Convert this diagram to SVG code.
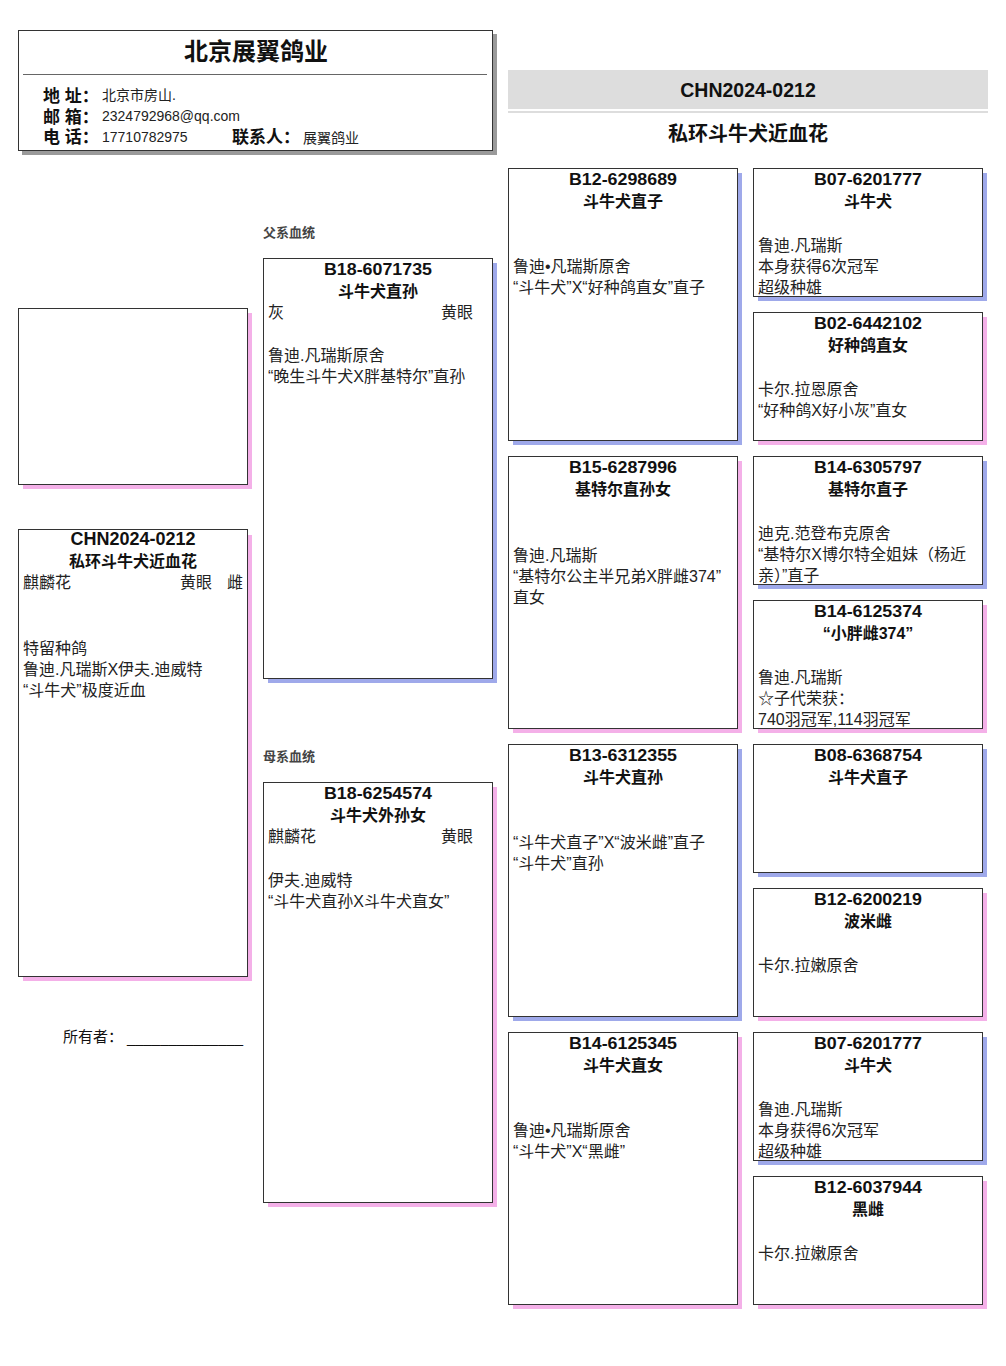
<svg xmlns="http://www.w3.org/2000/svg" width="1006" height="1366" viewBox="0 0 1006 1366">
<style>
.bg{fill:#ffffff}
.box{fill:#ffffff;stroke:#333333;stroke-width:1}
.sm{fill:#9fa9ea}
.sf{fill:#f4b0e8}
.sg{fill:#9a9a9a}
text{font-family:"Liberation Sans","Noto Sans CJK SC",sans-serif;fill:#111111}
.id{font-size:17px;font-weight:bold;text-anchor:middle}
.nm{font-size:16px;font-weight:bold;text-anchor:middle}
.bd{font-size:16px;fill:#222222}
.lbl{font-size:13px;font-weight:bold;fill:#444444}
.hk{font-size:17px;font-weight:bold}
.hv{font-size:14px;fill:#222222}
</style>
<rect class="bg" x="0" y="0" width="1006" height="1366"/>

<g id="header">
<rect class="sg" x="22" y="34" width="475" height="121"/>
<rect class="box" x="18.5" y="30.5" width="474" height="120"/>
<text x="256" y="60" text-anchor="middle" font-size="24" font-weight="bold">北京展翼鸽业</text>
<line x1="23" y1="74.5" x2="487" y2="74.5" stroke="#666666" stroke-width="1"/>
<text class="hk" x="43" y="102">地 址：</text>
<text class="hv" x="102" y="100">北京市房山.</text>
<text class="hk" x="43" y="123">邮 箱：</text>
<text class="hv" x="102" y="121">2324792968@qq.com</text>
<text class="hk" x="43" y="143">电 话：</text>
<text class="hv" x="102" y="142">17710782975</text>
<text class="hk" x="232" y="143">联系人：</text>
<text class="hv" x="303" y="143">展翼鸽业</text>
</g>

<g id="title">
<rect x="508" y="70" width="480" height="39" fill="#dddddd"/>
<rect x="508" y="111" width="480" height="2" fill="#dddddd"/>
<text x="748" y="97" text-anchor="middle" font-size="19.5" font-weight="bold">CHN2024-0212</text>
<text x="748" y="141" text-anchor="middle" font-size="20" font-weight="bold">私环斗牛犬近血花</text>
</g>

<g id="photo">
<rect class="sf" x="23" y="313" width="229" height="176"/>
<rect class="box" x="18.5" y="308.5" width="229" height="176"/>
</g>

<g id="subject">
<rect class="sf" x="23" y="535" width="229" height="446"/>
<rect class="box" x="18.5" y="529.5" width="229" height="447"/>
<text x="133" y="545" text-anchor="middle" font-size="18" font-weight="bold">CHN2024-0212</text>
<text class="nm" x="133" y="567">私环斗牛犬近血花</text>
<text class="bd" x="23" y="588">麒麟花</text>
<text class="bd" x="180" y="588">黄眼</text>
<text class="bd" x="227" y="588">雌</text>
<text class="bd" x="23" y="654">特留种鸽</text>
<text class="bd" x="23" y="675">鲁迪.凡瑞斯X伊夫.迪威特</text>
<text class="bd" x="23" y="696">“斗牛犬”极度近血</text>
</g>

<g id="owner">
<text x="63" y="1042" font-size="15" fill="#222222">所有者：</text>
<text x="127" y="1043" font-size="15" fill="#222222" textLength="116" lengthAdjust="spacingAndGlyphs">______________</text>
</g>

<text class="lbl" x="263" y="237">父系血统</text>
<text class="lbl" x="263" y="761">母系血统</text>

<g id="sire">
<rect class="sm" x="268" y="263" width="229" height="420"/>
<rect class="box" x="263.5" y="258.5" width="229" height="420"/>
<text class="id" x="378" y="275" textLength="108" lengthAdjust="spacingAndGlyphs">B18-6071735</text>
<text class="nm" x="378" y="297">斗牛犬直孙</text>
<text class="bd" x="268" y="318">灰</text>
<text class="bd" x="441" y="318">黄眼</text>
<text class="bd" x="268" y="361">鲁迪.凡瑞斯原舍</text>
<text class="bd" x="268" y="382">“晚生斗牛犬X胖基特尔”直孙</text>
</g>

<g id="dam">
<rect class="sf" x="268" y="787" width="229" height="420"/>
<rect class="box" x="263.5" y="782.5" width="229" height="420"/>
<text class="id" x="378" y="799" textLength="108" lengthAdjust="spacingAndGlyphs">B18-6254574</text>
<text class="nm" x="378" y="821">斗牛犬外孙女</text>
<text class="bd" x="268" y="842">麒麟花</text>
<text class="bd" x="441" y="842">黄眼</text>
<text class="bd" x="268" y="886">伊夫.迪威特</text>
<text class="bd" x="268" y="907">“斗牛犬直孙X斗牛犬直女”</text>
</g>

<g id="ss">
<rect class="sm" x="513" y="173" width="229" height="272"/>
<rect class="box" x="508.5" y="168.5" width="229" height="272"/>
<text class="id" x="623" y="185" textLength="108" lengthAdjust="spacingAndGlyphs">B12-6298689</text>
<text class="nm" x="623" y="207">斗牛犬直子</text>
<text class="bd" x="513" y="272">鲁迪•凡瑞斯原舍</text>
<text class="bd" x="513" y="293">“斗牛犬”X“好种鸽直女”直子</text>
</g>

<g id="sd">
<rect class="sf" x="513" y="461" width="229" height="272"/>
<rect class="box" x="508.5" y="456.5" width="229" height="272"/>
<text class="id" x="623" y="473" textLength="108" lengthAdjust="spacingAndGlyphs">B15-6287996</text>
<text class="nm" x="623" y="495">基特尔直孙女</text>
<text class="bd" x="513" y="561">鲁迪.凡瑞斯</text>
<text class="bd" x="513" y="582">“基特尔公主半兄弟X胖雌374”</text>
<text class="bd" x="513" y="603">直女</text>
</g>

<g id="ds">
<rect class="sm" x="513" y="749" width="229" height="272"/>
<rect class="box" x="508.5" y="744.5" width="229" height="272"/>
<text class="id" x="623" y="761" textLength="108" lengthAdjust="spacingAndGlyphs">B13-6312355</text>
<text class="nm" x="623" y="783">斗牛犬直孙</text>
<text class="bd" x="513" y="848">“斗牛犬直子”X“波米雌”直子</text>
<text class="bd" x="513" y="869">“斗牛犬”直孙</text>
</g>

<g id="dd">
<rect class="sf" x="513" y="1037" width="229" height="272"/>
<rect class="box" x="508.5" y="1032.5" width="229" height="272"/>
<text class="id" x="623" y="1049" textLength="108" lengthAdjust="spacingAndGlyphs">B14-6125345</text>
<text class="nm" x="623" y="1071">斗牛犬直女</text>
<text class="bd" x="513" y="1136">鲁迪•凡瑞斯原舍</text>
<text class="bd" x="513" y="1157">“斗牛犬”X“黑雌”</text>
</g>

<g id="sss">
<rect class="sm" x="758" y="173" width="229" height="128"/>
<rect class="box" x="753.5" y="168.5" width="229" height="128"/>
<text class="id" x="868" y="185" textLength="108" lengthAdjust="spacingAndGlyphs">B07-6201777</text>
<text class="nm" x="868" y="207">斗牛犬</text>
<text class="bd" x="758" y="251">鲁迪.凡瑞斯</text>
<text class="bd" x="758" y="272">本身获得6次冠军</text>
<text class="bd" x="758" y="293">超级种雄</text>
</g>

<g id="ssd">
<rect class="sf" x="758" y="317" width="229" height="128"/>
<rect class="box" x="753.5" y="312.5" width="229" height="128"/>
<text class="id" x="868" y="329" textLength="108" lengthAdjust="spacingAndGlyphs">B02-6442102</text>
<text class="nm" x="868" y="351">好种鸽直女</text>
<text class="bd" x="758" y="395">卡尔.拉恩原舍</text>
<text class="bd" x="758" y="416">“好种鸽X好小灰”直女</text>
</g>

<g id="sds">
<rect class="sm" x="758" y="461" width="229" height="128"/>
<rect class="box" x="753.5" y="456.5" width="229" height="128"/>
<text class="id" x="868" y="473" textLength="108" lengthAdjust="spacingAndGlyphs">B14-6305797</text>
<text class="nm" x="868" y="495">基特尔直子</text>
<text class="bd" x="758" y="539">迪克.范登布克原舍</text>
<text class="bd" x="758" y="560">“基特尔X博尔特全姐妹（杨近</text>
<text class="bd" x="758" y="581">亲）”直子</text>
</g>

<g id="sdd">
<rect class="sf" x="758" y="605" width="229" height="128"/>
<rect class="box" x="753.5" y="600.5" width="229" height="128"/>
<text class="id" x="868" y="617" textLength="108" lengthAdjust="spacingAndGlyphs">B14-6125374</text>
<text class="nm" x="868" y="639">“小胖雌374”</text>
<text class="bd" x="758" y="683">鲁迪.凡瑞斯</text>
<text class="bd" x="758" y="704">☆子代荣获：</text>
<text class="bd" x="758" y="725">740羽冠军,114羽冠军</text>
</g>

<g id="dss">
<rect class="sm" x="758" y="749" width="229" height="128"/>
<rect class="box" x="753.5" y="744.5" width="229" height="128"/>
<text class="id" x="868" y="761" textLength="108" lengthAdjust="spacingAndGlyphs">B08-6368754</text>
<text class="nm" x="868" y="783">斗牛犬直子</text>
</g>

<g id="dsd">
<rect class="sf" x="758" y="893" width="229" height="128"/>
<rect class="box" x="753.5" y="888.5" width="229" height="128"/>
<text class="id" x="868" y="905" textLength="108" lengthAdjust="spacingAndGlyphs">B12-6200219</text>
<text class="nm" x="868" y="927">波米雌</text>
<text class="bd" x="758" y="971">卡尔.拉嫩原舍</text>
</g>

<g id="dds">
<rect class="sm" x="758" y="1037" width="229" height="128"/>
<rect class="box" x="753.5" y="1032.5" width="229" height="128"/>
<text class="id" x="868" y="1049" textLength="108" lengthAdjust="spacingAndGlyphs">B07-6201777</text>
<text class="nm" x="868" y="1071">斗牛犬</text>
<text class="bd" x="758" y="1115">鲁迪.凡瑞斯</text>
<text class="bd" x="758" y="1136">本身获得6次冠军</text>
<text class="bd" x="758" y="1157">超级种雄</text>
</g>

<g id="ddd">
<rect class="sf" x="758" y="1181" width="229" height="128"/>
<rect class="box" x="753.5" y="1176.5" width="229" height="128"/>
<text class="id" x="868" y="1193" textLength="108" lengthAdjust="spacingAndGlyphs">B12-6037944</text>
<text class="nm" x="868" y="1215">黑雌</text>
<text class="bd" x="758" y="1259">卡尔.拉嫩原舍</text>
</g>

<g id="connectors"></g>
</svg>
